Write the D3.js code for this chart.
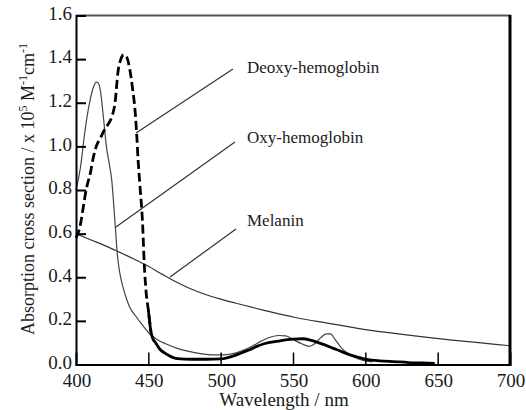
<!DOCTYPE html>
<html><head><meta charset="utf-8">
<script src="https://cdn.jsdelivr.net/npm/d3@7"></script>
<style>
html,body{margin:0;padding:0;background:#fff;}
svg{display:block;}
text{font-family:"Liberation Serif","Times New Roman",serif;fill:#1a1a1a;}
</style></head>
<body>
<svg id="chart" width="526" height="410"></svg>
<script>
// ---- data ----
const xTicks = [400, 450, 500, 550, 600, 650, 700];
const yTicks = [0.0, 0.2, 0.4, 0.6, 0.8, 1.0, 1.2, 1.4, 1.6];

const deoxyWl = [400,403,405,407,410,412,414,417,420,423,425,427,429,431,433,435,437,439,441,442,443,444.2,446,447.2,448.5,450,451.8,453,455,458,462,466,470,480,490,500,505,510,515,520,525,530,540,550,557,562,566,572,578,584,590,596,601,610,620,630,640,648];
const deoxyAbs = [0.58,0.64,0.72,0.80,0.88,0.95,1.00,1.04,1.08,1.11,1.14,1.20,1.34,1.40,1.42,1.41,1.36,1.27,1.15,1.05,0.93,0.82,0.65,0.46,0.33,0.25,0.15,0.12,0.10,0.07,0.05,0.035,0.027,0.024,0.024,0.026,0.032,0.042,0.055,0.068,0.083,0.095,0.107,0.116,0.118,0.112,0.104,0.09,0.074,0.058,0.043,0.032,0.024,0.017,0.013,0.009,0.007,0.005];

const oxyWl = [400,403,406,408,410,412,414,415.5,417,419,421,423,424.7,426,427.2,428.5,430,431.5,434,437,441.5,446,451,456,462,470,478,486,494,502,510,516,522,528,534,540,545,550,556,561,565,569,573,576,579,583,587,592,598,605];
const oxyAbs = [0.80,0.90,1.06,1.15,1.22,1.27,1.295,1.29,1.25,1.13,1.00,0.92,0.845,0.74,0.63,0.51,0.43,0.38,0.32,0.265,0.22,0.18,0.14,0.115,0.095,0.074,0.06,0.05,0.044,0.044,0.052,0.066,0.085,0.107,0.125,0.133,0.131,0.115,0.095,0.083,0.095,0.122,0.14,0.14,0.115,0.08,0.055,0.035,0.02,0.012];

const melaninWl = [400,410,420,430,440,450,460,470,480,490,500,510,520,530,540,550,560,570,580,590,600,620,640,660,680,700];
const melaninAbs = [0.600,0.572,0.545,0.515,0.484,0.450,0.412,0.376,0.345,0.320,0.300,0.282,0.265,0.248,0.232,0.218,0.205,0.194,0.183,0.171,0.160,0.143,0.127,0.112,0.099,0.086];

const labelNames = ["Deoxy-hemoglobin", "Oxy-hemoglobin", "Melanin"];
const leaderFromWl = [441.5, 427.6, 465.0];
const leaderFromAbs = [1.061, 0.630, 0.401];
const leaderToWl = [508.5, 509.9, 510.6];
const leaderToAbs = [1.355, 1.020, 0.621];
const labelWl = 518.2;
const labelAbs = [1.355, 1.035, 0.652];

// ---- layout ----
const svg = d3.select("#chart");
const x = d3.scaleLinear().domain([400, 700]).range([76, 510]);
const y = d3.scaleLinear().domain([0, 1.6]).range([364.5, 15.5]);

const zip = (a, b) => a.map((v, i) => [v, b[i]]);
const line = d3.line().x(d => x(d[0])).y(d => y(d[1])).curve(d3.curveMonotoneX);

const deoxy = zip(deoxyWl, deoxyAbs);
const oxy = zip(oxyWl, oxyAbs);
const melanin = zip(melaninWl, melaninAbs);

// curves
svg.append("path").attr("d", line(melanin)).attr("fill", "none")
  .attr("stroke", "#333").attr("stroke-width", 1.2);
svg.append("path").attr("d", line(oxy)).attr("fill", "none")
  .attr("stroke", "#444").attr("stroke-width", 1.2);
svg.append("path").attr("d", line(deoxy.filter(d => d[0] <= 451.8))).attr("fill", "none")
  .attr("stroke", "#000").attr("stroke-width", 2.8).attr("stroke-dasharray", "9,4");
svg.append("path").attr("d", line(deoxy.filter(d => d[0] >= 450))).attr("fill", "none")
  .attr("stroke", "#000").attr("stroke-width", 2.8);

// leader lines and labels
labelNames.forEach((name, i) => {
  svg.append("line")
    .attr("x1", x(leaderFromWl[i])).attr("y1", y(leaderFromAbs[i]))
    .attr("x2", x(leaderToWl[i])).attr("y2", y(leaderToAbs[i]))
    .attr("stroke", "#333").attr("stroke-width", 1.2);
  svg.append("text").attr("x", x(labelWl)).attr("y", y(labelAbs[i]))
    .attr("dominant-baseline", "middle")
    .attr("font-size", 17).text(name);
});

// frame
svg.append("line").attr("x1", 76).attr("x2", 511).attr("y1", 15.5).attr("y2", 15.5)
  .attr("stroke", "#555").attr("stroke-width", 2);
svg.append("line").attr("x1", 510).attr("x2", 510).attr("y1", 15).attr("y2", 365.5)
  .attr("stroke", "#000").attr("stroke-width", 3);

// axes
const yAxis = svg.append("g").attr("transform", "translate(76,0)")
  .call(d3.axisRight(y).tickValues(yTicks).tickSize(10).tickFormat(""));
yAxis.select(".domain").attr("stroke-width", 2);
yAxis.selectAll(".tick line").attr("stroke-width", 2);
yAxis.selectAll(".tick").filter(d => d === 0 || d === 1.6).remove();

svg.selectAll(".ylab").data(yTicks).enter().append("text")
  .attr("x", 72).attr("y", d => y(d)).attr("text-anchor", "end")
  .attr("dominant-baseline", "middle").attr("font-size", 19)
  .text(d => d3.format(".1f")(d));

const xAxis = svg.append("g").attr("transform", "translate(0,364.5)")
  .call(d3.axisTop(x).tickValues(xTicks).tickSize(12).tickFormat(""));
xAxis.select(".domain").attr("stroke-width", 2);
xAxis.selectAll(".tick line").attr("stroke-width", 1.5);
xAxis.selectAll(".tick").filter(d => d === 400 || d === 700).remove();

svg.selectAll(".xlab").data(xTicks).enter().append("text")
  .attr("x", d => x(d) + 1).attr("y", 387).attr("text-anchor", "middle")
  .attr("font-size", 19).text(d => d);

// axis titles
svg.append("text").attr("x", 284).attr("y", 406).attr("text-anchor", "middle")
  .attr("font-size", 19).text("Wavelength / nm");

const yt = svg.append("text").attr("transform", "translate(34,189) rotate(-90)")
  .attr("text-anchor", "middle").attr("font-size", 18);
yt.append("tspan").text("Absorption cross section / x 10");
yt.append("tspan").attr("font-size", 12).attr("dy", -7).text("5");
yt.append("tspan").attr("dy", 7).text(" M");
yt.append("tspan").attr("font-size", 12).attr("dy", -7).text("-1");
yt.append("tspan").attr("dy", 7).text("cm");
yt.append("tspan").attr("font-size", 12).attr("dy", -7).text("-1");
</script>
</body></html>
